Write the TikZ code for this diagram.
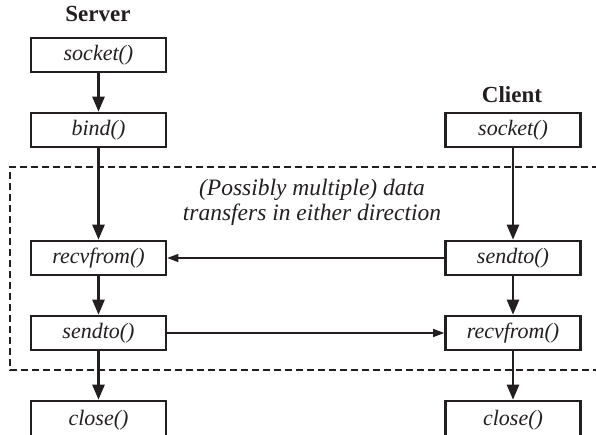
\documentclass[tikz,border=0pt]{standalone}
\usepackage{fontspec}
\setmainfont{Liberation Serif}
\usepackage{xcolor}
\usepackage{tikz}
\usetikzlibrary{arrows.meta}
\definecolor{inkColor}{HTML}{231F20}

\begin{document}
\begin{tikzpicture}[x=1pt, y=-1pt,
    callbox/.style={draw=inkColor, line width=2.6pt, minimum width=135pt, minimum height=34pt,
        inner sep=0pt, font=\fontsize{22}{24}\selectfont\itshape, text=inkColor},
    sidelabel/.style={font=\fontsize{23}{26}\selectfont\bfseries, text=inkColor},
    flow/.style={draw=inkColor, line width=2.4pt, -{Triangle[length=15pt,width=12pt]}},
    transfer/.style={draw=inkColor, line width=1.1pt, -{Triangle[length=11pt,width=8pt]}}]
    \useasboundingbox (0,0) rectangle (596,434);
    % dashed region for the data exchange
    \draw[inkColor, line width=2.4pt, dash pattern=on 7pt off 4pt] (610,167) -- (10,167) -- (10,370) -- (610,370);
    \node[font=\fontsize{23.5}{25}\selectfont\itshape, text=inkColor, align=center] (note) at (312,202)
        {(Possibly multiple) data\\transfers in either direction};
    % server side
    \node[sidelabel] (server) at (98,14) {Server};
    \node[callbox] (ssocket) at (98.5,55) {socket()};
    \node[callbox] (sbind) at (98.5,130) {bind()};
    \node[callbox] (srecv) at (98.5,258) {recvfrom()};
    \node[callbox] (ssend) at (98.5,333) {sendto()};
    \node[callbox, minimum height=38pt] (sclose) at (98.5,420) {close()};
    % client side
    \node[sidelabel] (client) at (512,95) {Client};
    \node[callbox] (csocket) at (513,130) {socket()};
    \node[callbox] (csend) at (513,258) {sendto()};
    \node[callbox] (crecv) at (513,333) {recvfrom()};
    \node[callbox, minimum height=38pt] (cclose) at (513,420) {close()};
    \draw[flow] (ssocket) -- (sbind);
    \draw[flow] (sbind) -- (srecv);
    \draw[flow] (srecv) -- (ssend);
    \draw[flow] (ssend) -- (sclose);
    \draw[flow] (csocket) -- (csend);
    \draw[flow] (csend) -- (crecv);
    \draw[flow] (crecv) -- (cclose);
    \draw[transfer] (csend) -- (srecv);
    \draw[transfer] (ssend) -- (crecv);
\end{tikzpicture}
\end{document}
